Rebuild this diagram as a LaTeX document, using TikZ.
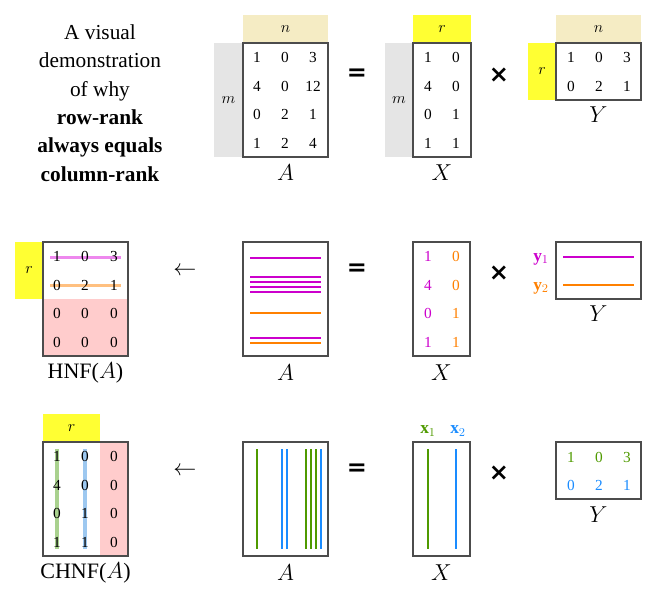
\documentclass[tikz,border=0pt]{standalone}
\usepackage{fontspec}
\setmainfont{Liberation Serif}
\newfontfamily\opfont{DejaVu Sans}
\begin{document}
\begin{tikzpicture}[x=0.75pt,y=-0.75pt,
  box/.style={draw=black!70,line width=0.8pt},
  ent/.style={font=\fontsize{11.5}{12}\selectfont},
  vec/.style={font=\fontsize{13}{14}\selectfont},
  lab/.style={font=\fontsize{16.5}{18}\selectfont},
  op/.style={font=\opfont\bfseries\fontsize{18}{18}\selectfont},
  arr/.style={font=\fontsize{18}{18}\selectfont},
  ln/.style={line width=2pt}]
\definecolor{beige}{HTML}{F5ECC4}\definecolor{gry}{HTML}{E5E5E5}
\definecolor{yel}{HTML}{FFFF33}\definecolor{pnk}{HTML}{FFCCCC}
\definecolor{mag}{HTML}{CC00CC}\definecolor{org}{HTML}{FF8000}
\definecolor{grn}{HTML}{4F9A00}\definecolor{blu}{HTML}{1A8CFF}
\definecolor{lmag}{HTML}{EE88EE}\definecolor{lorg}{HTML}{FFC080}
\definecolor{lgrn}{HTML}{A9D18E}\definecolor{lblu}{HTML}{9DC8F0}
\useasboundingbox (0,0) rectangle (657,600);
% title
\node[align=center,font=\fontsize{16}{21.3}\selectfont] (title) at (100,103)
 {A visual\\demonstration\\of why\\\textbf{row-rank}\\\textbf{always equals}\\\textbf{column-rank}};
% ---- Row 1
\fill[beige] (243,15) rectangle (328,43); \node[ent] (n1) at (285.5,29) {$n$};
\fill[gry] (214,43) rectangle (243,157); \node[ent] (m1) at (228.5,100) {$m$};
\node[box,minimum width=63.75pt,minimum height=85.5pt] (A1) at (285.5,100) {};
\foreach \a/\b/\c [count=\i] in {1/0/3,4/0/12,0/2/1,1/2/4}{
  \node[ent] at (257,29+28.6*\i) {\a}; \node[ent] at (285,29+28.6*\i) {\b}; \node[ent] at (313,29+28.6*\i) {\c};}
\node[lab] (A1l) at (285.5,173) {$A$};
\node[op] (eq1) at (357,75) {=};
\fill[yel] (413,15) rectangle (471,43); \node[ent] (r1) at (442,29) {$r$};
\fill[gry] (385,43) rectangle (413,157); \node[ent] (m2) at (399,100) {$m$};
\node[box,minimum width=43.5pt,minimum height=85.5pt] (X1) at (442,100) {};
\foreach \a/\b [count=\i] in {1/0,4/0,0/1,1/1}{
  \node[ent] at (428,29+28.6*\i) {\a}; \node[ent] at (456,29+28.6*\i) {\b};}
\node[lab] (X1l) at (442,173) {$X$};
\node[op] (t1) at (499,75) {×};
\fill[beige] (556,15) rectangle (641,43); \node[ent] (n2) at (598.5,29) {$n$};
\fill[yel] (528,43) rectangle (556,100); \node[ent] (r2) at (542,71.5) {$r$};
\node[box,minimum width=63.75pt,minimum height=42.75pt] (Y1) at (598.5,71.5) {};
\foreach \a/\b/\c [count=\i] in {1/0/3,0/2/1}{
  \node[ent] at (571,29+28.6*\i) {\a}; \node[ent] at (599,29+28.6*\i) {\b}; \node[ent] at (627,29+28.6*\i) {\c};}
\node[lab] (Y1l) at (598.5,115) {$Y$};
% ---- Row 2
\fill[yel] (15,242) rectangle (43,299); \node[ent] (r3) at (29,270.5) {$r$};
\fill[pnk] (43,299) rectangle (128,356);
\draw[line width=2.5pt,lmag] (50,257.5) -- (121,257.5);
\draw[line width=2.5pt,lorg] (50,285.5) -- (121,285.5);
\foreach \a/\b/\c [count=\i] in {1/0/3,0/2/1,0/0/0,0/0/0}{
  \node[ent] at (57,228+28.6*\i) {\a}; \node[ent] at (85,228+28.6*\i) {\b}; \node[ent] at (114,228+28.6*\i) {\c};}
\node[box,minimum width=63.75pt,minimum height=85.5pt] (H) at (85.5,299) {};
\node[lab] (Hl) at (85.5,373) {HNF($A$)};
\node[arr] (ar1) at (185,271) {$\leftarrow$};
\node[box,minimum width=63.75pt,minimum height=85.5pt] (A2) at (285.5,299) {};
\foreach \y in {258,277,282,287,292,338}{\draw[ln,mag] (250,\y) -- (321,\y);}
\foreach \y in {313,343}{\draw[ln,org] (250,\y) -- (321,\y);}
\node[lab] (A2l) at (285.5,373) {$A$};
\node[op] (eq2) at (357,270) {=};
\node[box,minimum width=42.75pt,minimum height=85.5pt] (X2) at (441.5,299) {};
\foreach \a/\b [count=\i] in {1/0,4/0,0/1,1/1}{
  \node[ent,text=mag] at (428,228+28.6*\i) {\a}; \node[ent,text=org] at (456,228+28.6*\i) {\b};}
\node[lab] (X2l) at (441.5,373) {$X$};
\node[op] (t2) at (499,273) {×};
\node[box,minimum width=63.75pt,minimum height=42.75pt] (Y2) at (598.5,270.5) {};
\draw[ln,mag] (563,257) -- (634,257); \draw[ln,org] (563,285) -- (634,285);
\node[vec,text=mag] (y1) at (541,259) {$\mathbf{y}_1$};
\node[vec,text=org] (y2) at (541,288) {$\mathbf{y}_2$};
\node[lab] (Y2l) at (598.5,314) {$Y$};
% ---- Row 3
\fill[yel] (43,414) rectangle (100,442); \node[ent] (r4) at (71.5,428) {$r$};
\fill[pnk] (100,442) rectangle (128,556);
\draw[line width=2.5pt,lgrn] (57,449) -- (57,549);
\draw[line width=2.5pt,lblu] (85,449) -- (85,549);
\foreach \a/\b/\c [count=\i] in {1/0/0,4/0/0,0/1/0,1/1/0}{
  \node[ent] at (57,428+28.6*\i) {\a}; \node[ent] at (85,428+28.6*\i) {\b}; \node[ent] at (114,428+28.6*\i) {\c};}
\node[box,minimum width=63.75pt,minimum height=85.5pt] (C) at (85.5,499) {};
\node[lab] (Cl) at (85.5,573) {CHNF($A$)};
\node[arr] (ar2) at (185,471) {$\leftarrow$};
\node[box,minimum width=63.75pt,minimum height=85.5pt] (A3) at (285.5,499) {};
\foreach \x in {257,306,311,316}{\draw[ln,grn] (\x,449) -- (\x,549);}
\foreach \x in {282,287,321}{\draw[ln,blu] (\x,449) -- (\x,549);}
\node[lab] (A3l) at (285.5,573) {$A$};
\node[op] (eq3) at (357,470) {=};
\node[box,minimum width=42.75pt,minimum height=85.5pt] (X3) at (441.5,499) {};
\draw[ln,grn] (428,449) -- (428,549); \draw[ln,blu] (456,449) -- (456,549);
\node[vec,text=grn] (x1) at (428,431) {$\mathbf{x}_1$};
\node[vec,text=blu] (x2) at (458,431) {$\mathbf{x}_2$};
\node[lab] (X3l) at (441.5,573) {$X$};
\node[op] (t3) at (499,473) {×};
\node[box,minimum width=63.75pt,minimum height=42.75pt] (Y3) at (598.5,470.5) {};
\foreach \a/\x in {1/571,0/599,3/627}{\node[ent,text=grn] at (\x,457) {\a};}
\foreach \a/\x in {0/571,2/599,1/627}{\node[ent,text=blu] at (\x,485) {\a};}
\node[lab] (Y3l) at (598.5,515) {$Y$};
\end{tikzpicture}
\end{document}
